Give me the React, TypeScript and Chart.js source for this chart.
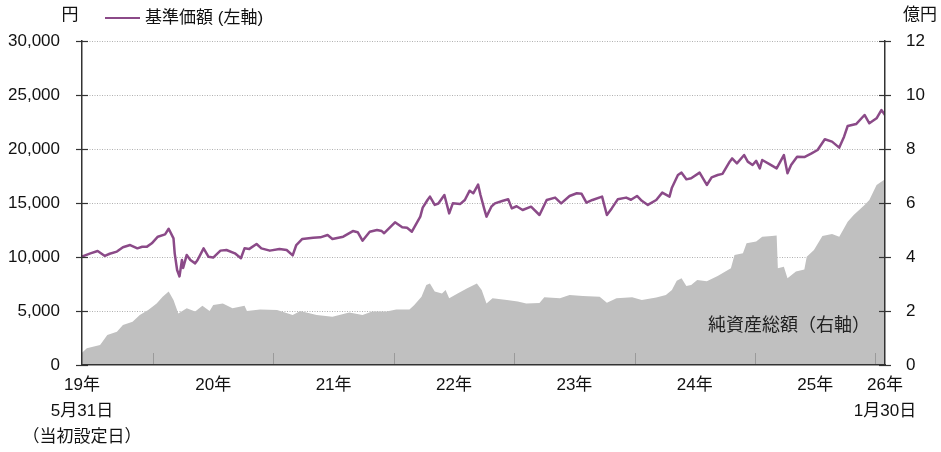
import React, { useEffect, useRef } from 'react';
import { Chart, registerables } from 'chart.js';

Chart.register(...registerables);

// 基準価額 (円) — dates as decimal years
const priceDates = [
  2019.41, 2019.48, 2019.54, 2019.6, 2019.64, 2019.7, 2019.75, 2019.81, 2019.87, 2019.91,
  2019.95, 2019.99, 2020.04, 2020.1, 2020.13, 2020.17, 2020.18, 2020.2, 2020.22, 2020.24,
  2020.25, 2020.28, 2020.31, 2020.35, 2020.37, 2020.42, 2020.46, 2020.5, 2020.56, 2020.61,
  2020.68, 2020.73, 2020.76, 2020.8, 2020.86, 2020.9, 2020.97, 2021.05, 2021.11, 2021.16,
  2021.19, 2021.24, 2021.33, 2021.39, 2021.45, 2021.49, 2021.58, 2021.66, 2021.7, 2021.74,
  2021.8, 2021.86, 2021.9, 2021.92, 2022.01, 2022.07, 2022.11, 2022.15, 2022.22, 2022.24,
  2022.28, 2022.3, 2022.34, 2022.37, 2022.42, 2022.46, 2022.49, 2022.55, 2022.59, 2022.63,
  2022.66, 2022.7, 2022.72, 2022.75, 2022.77, 2022.81, 2022.84, 2022.9, 2022.95, 2022.98,
  2023.02, 2023.07, 2023.14, 2023.21, 2023.27, 2023.34, 2023.39, 2023.46, 2023.52, 2023.56,
  2023.6, 2023.65, 2023.73, 2023.77, 2023.81, 2023.86, 2023.93, 2023.97, 2024.02, 2024.06,
  2024.11, 2024.18, 2024.23, 2024.29, 2024.31, 2024.36, 2024.39, 2024.43, 2024.47, 2024.54,
  2024.6, 2024.64, 2024.69, 2024.73, 2024.79, 2024.81, 2024.85, 2024.91, 2024.94, 2024.98,
  2025.01, 2025.04, 2025.06, 2025.12, 2025.18, 2025.24, 2025.27, 2025.3, 2025.35, 2025.41,
  2025.47, 2025.52, 2025.58, 2025.64, 2025.7, 2025.74, 2025.77, 2025.84, 2025.91, 2025.95,
  2026.01, 2026.05, 2026.08,
];
const priceValues = [
  10050, 10340, 10560, 10100, 10300, 10500, 10900, 11110, 10800, 10950,
  10960, 11270, 11880, 12100, 12620, 11730, 10340, 8800, 8200, 9720,
  8980, 10190, 9720, 9410, 9720, 10800, 10030, 9950, 10590, 10650,
  10340, 9880, 10800, 10750, 11200, 10800, 10590, 10740, 10650, 10150,
  11110, 11670, 11790, 11820, 12040, 11670, 11880, 12400, 12300, 11510,
  12340, 12500, 12400, 12200, 13210, 12750, 12700, 12340, 13740, 14570,
  15280, 15590, 14820, 14950, 15740, 14040, 14970, 14900, 15280, 16140,
  15900, 16700, 15740, 14500, 13740, 14660, 14970, 15190, 15340, 14500,
  14700, 14350, 14660, 13890, 15280, 15500, 14970, 15650, 15900, 15850,
  15030, 15280, 15590, 13890, 14500, 15340, 15500, 15300, 15650, 15200,
  14820, 15280, 15960, 15590, 16420, 17590, 17810, 17190, 17290, 17810,
  16670, 17380, 17590, 17700, 18830, 19130, 18670, 19440, 18830, 18520,
  18900, 18210, 18980, 18600, 18210, 19440, 17750, 18520, 19290, 19250,
  19600, 19910, 20900, 20680, 20130, 21140, 22130, 22310, 23150, 22380,
  22840, 23610, 23150,
];

// 純資産総額 (億円)
const navDates = [
  2019.41, 2019.45, 2019.56, 2019.58, 2019.62, 2019.7, 2019.75, 2019.83, 2019.89, 2019.96,
  2020.03, 2020.08, 2020.13, 2020.17, 2020.21, 2020.28, 2020.35, 2020.41, 2020.47, 2020.5,
  2020.58, 2020.66, 2020.76, 2020.78, 2020.89, 2021.03, 2021.16, 2021.2, 2021.22, 2021.36,
  2021.49, 2021.63, 2021.74, 2021.82, 2021.94, 2022.02, 2022.13, 2022.17, 2022.23, 2022.27,
  2022.3, 2022.34, 2022.4, 2022.43, 2022.46, 2022.53, 2022.61, 2022.69, 2022.73, 2022.77,
  2022.82, 2022.94, 2023.03, 2023.1, 2023.21, 2023.25, 2023.38, 2023.46, 2023.57, 2023.71,
  2023.77, 2023.85, 2023.98, 2024.06, 2024.18, 2024.26, 2024.31, 2024.35, 2024.39, 2024.43,
  2024.47, 2024.52, 2024.6, 2024.69, 2024.8, 2024.83, 2024.9, 2024.93, 2025.01, 2025.06,
  2025.14, 2025.18, 2025.19, 2025.24, 2025.27, 2025.34, 2025.41, 2025.43, 2025.49, 2025.56,
  2025.64, 2025.7, 2025.77, 2025.82, 2025.91, 2025.95, 2026.01, 2026.08,
];
const navValues = [
  0.45, 0.62, 0.74, 0.86, 1.11, 1.23, 1.48, 1.6, 1.85, 2.04,
  2.28, 2.53, 2.72, 2.41, 1.91, 2.1, 1.98, 2.19, 2.0, 2.22,
  2.28, 2.1, 2.19, 2.0, 2.06, 2.04, 1.85, 1.94, 2.0, 1.85,
  1.79, 1.94, 1.85, 1.98, 1.98, 2.06, 2.06, 2.22, 2.53, 2.96,
  3.02, 2.72, 2.65, 2.78, 2.47, 2.65, 2.84, 3.02, 2.78, 2.28,
  2.47, 2.41, 2.35, 2.28, 2.3, 2.51, 2.47, 2.59, 2.56, 2.53,
  2.31, 2.47, 2.51, 2.41, 2.5, 2.59, 2.78, 3.12, 3.21, 2.93,
  2.96, 3.15, 3.1, 3.3, 3.58, 4.07, 4.14, 4.51, 4.57, 4.75,
  4.78, 4.8, 3.58, 3.64, 3.21, 3.46, 3.54, 4.01, 4.26, 4.78,
  4.85, 4.75, 5.31, 5.56, 5.93, 6.11, 6.67, 6.88,
];

const xMin = 2019.41;
const xMax = 2026.08;
const yearBoundaries = [2020, 2021, 2022, 2023, 2024, 2025, 2026];
const xTickValues = [2019.41, 2020.5, 2021.5, 2022.5, 2023.5, 2024.5, 2025.5, 2026.08];
const xTickLabels: (string | string[])[] = [
  ['19年', '5月31日', '（当初設定日）'],
  '20年', '21年', '22年', '23年', '24年', '25年',
  ['26年', '1月30日'],
];
const leftMax = 30000;
const leftStep = 5000;
const rightMax = 12;
const rightStep = 2;

const legendLabel = '基準価額 (左軸)';
const navLabel = '純資産総額（右軸）';
const leftUnit = '円';
const rightUnit = '億円';

const FONT = '"Liberation Sans", Arial, "Noto Sans CJK JP", sans-serif';
const PURPLE = '#8b4a88';
const GRAY = '#c0c0c0';
const AXIS = '#333333';

const overlayPlugin = {
  id: 'overlayPlugin',
  beforeDatasetsDraw(chart: any) {
    const { ctx, chartArea, scales } = chart;
    ctx.save();
    ctx.strokeStyle = '#b0b0b0';
    ctx.lineWidth = 1;
    ctx.setLineDash([1, 1.5]);
    for (let v = leftStep; v <= leftMax; v += leftStep) {
      const y = Math.round(scales.y.getPixelForValue(v)) + 0.5;
      ctx.beginPath();
      ctx.moveTo(chartArea.left, y);
      ctx.lineTo(chartArea.right, y);
      ctx.stroke();
    }
    ctx.restore();
  },
  afterDatasetsDraw(chart: any) {
    const { ctx, chartArea, scales } = chart;
    ctx.save();
    ctx.strokeStyle = '#9a9a9a';
    ctx.lineWidth = 1;
    yearBoundaries.forEach((v) => {
      const x = Math.round(scales.x.getPixelForValue(v)) + 0.5;
      ctx.beginPath();
      ctx.moveTo(x, chartArea.bottom);
      ctx.lineTo(x, chartArea.bottom - 12);
      ctx.stroke();
    });
    ctx.fillStyle = '#222';
    ctx.font = `18px ${FONT}`;
    ctx.textAlign = 'left';
    ctx.textBaseline = 'middle';
    ctx.fillText(navLabel, 708, 326);
    ctx.restore();
  },
  afterDraw(chart: any) {
    const { ctx, chartArea, scales } = chart;
    ctx.save();
    ctx.strokeStyle = AXIS;
    ctx.lineWidth = 1.2;
    for (let v = 0; v <= leftMax; v += leftStep) {
      const y = Math.round(scales.y.getPixelForValue(v)) + 0.5;
      ctx.beginPath();
      ctx.moveTo(chartArea.left - 6, y);
      ctx.lineTo(chartArea.left + 6, y);
      ctx.stroke();
    }
    for (let v = 0; v <= rightMax; v += rightStep) {
      const y = Math.round(scales.y1.getPixelForValue(v)) + 0.5;
      ctx.beginPath();
      ctx.moveTo(chartArea.right - 6, y);
      ctx.lineTo(chartArea.right + 6, y);
      ctx.stroke();
    }
    // legend
    ctx.strokeStyle = PURPLE;
    ctx.lineWidth = 2;
    ctx.beginPath();
    ctx.moveTo(105, 18);
    ctx.lineTo(140, 18);
    ctx.stroke();
    ctx.fillStyle = '#111';
    ctx.font = `17px ${FONT}`;
    ctx.textBaseline = 'middle';
    ctx.textAlign = 'left';
    ctx.fillText(legendLabel, 145, 18);
    ctx.textAlign = 'center';
    ctx.fillText(leftUnit, 70, 15);
    ctx.textAlign = 'left';
    ctx.fillText(rightUnit, 903, 15);
    ctx.restore();
  },
};

export default function App() {
  const canvasRef = useRef<HTMLCanvasElement | null>(null);

  useEffect(() => {
    if (!canvasRef.current) return;
    const priceData = priceDates.map((x, i) => ({ x, y: priceValues[i] }));
    const navData = navDates.map((x, i) => ({ x, y: navValues[i] }));
    const chart = new Chart(canvasRef.current, {
      type: 'line',
      data: {
        datasets: [
          {
            label: legendLabel,
            data: priceData,
            yAxisID: 'y',
            borderColor: PURPLE,
            borderWidth: 2.5,
            pointRadius: 0,
            tension: 0,
            fill: false,
            borderJoinStyle: 'round',
          },
          {
            label: navLabel,
            data: navData,
            yAxisID: 'y1',
            borderWidth: 0,
            borderColor: 'rgba(0,0,0,0)',
            backgroundColor: GRAY,
            pointRadius: 0,
            tension: 0,
            fill: 'origin',
          },
        ],
      },
      options: {
        animation: false,
        responsive: true,
        maintainAspectRatio: false,
        layout: { padding: { top: 41, left: 0, right: 0, bottom: 0 } },
        plugins: { legend: { display: false }, tooltip: { enabled: false } },
        scales: {
          x: {
            type: 'linear',
            min: xMin,
            max: xMax,
            afterBuildTicks: (s: any) => {
              s.ticks = xTickValues.map((v) => ({ value: v }));
            },
            afterFit: (s: any) => {
              s.height = 87;
            },
            grid: { display: false, drawTicks: false },
            border: { display: true, color: AXIS, width: 1.5, z: 1 },
            ticks: {
              autoSkip: false,
              maxRotation: 0,
              minRotation: 0,
              padding: 7,
              color: '#111',
              font: { family: FONT, size: 17, lineHeight: 1.53 },
              callback: (_v: any, i: number) => xTickLabels[i],
            },
          },
          y: {
            type: 'linear',
            position: 'left',
            min: 0,
            max: leftMax,
            afterFit: (s: any) => {
              s.width = 82;
            },
            grid: { display: false, drawTicks: false },
            border: { display: true, color: AXIS, width: 1.5, z: 1 },
            ticks: {
              stepSize: leftStep,
              padding: 22,
              color: '#111',
              font: { family: FONT, size: 17 },
              callback: (v: any) => Number(v).toLocaleString('en-US'),
            },
          },
          y1: {
            type: 'linear',
            position: 'right',
            min: 0,
            max: rightMax,
            afterFit: (s: any) => {
              s.width = 56;
            },
            grid: { display: false, drawTicks: false },
            border: { display: true, color: AXIS, width: 1.5, z: 1 },
            ticks: {
              stepSize: rightStep,
              padding: 21,
              color: '#111',
              font: { family: FONT, size: 17 },
            },
          },
        },
      },
      plugins: [overlayPlugin],
    } as any);
    return () => chart.destroy();
  }, []);

  return (
    <div style={{ position: 'absolute', left: 0, top: 0, width: 941, height: 452 }}>
      <canvas ref={canvasRef} />
    </div>
  );
}
